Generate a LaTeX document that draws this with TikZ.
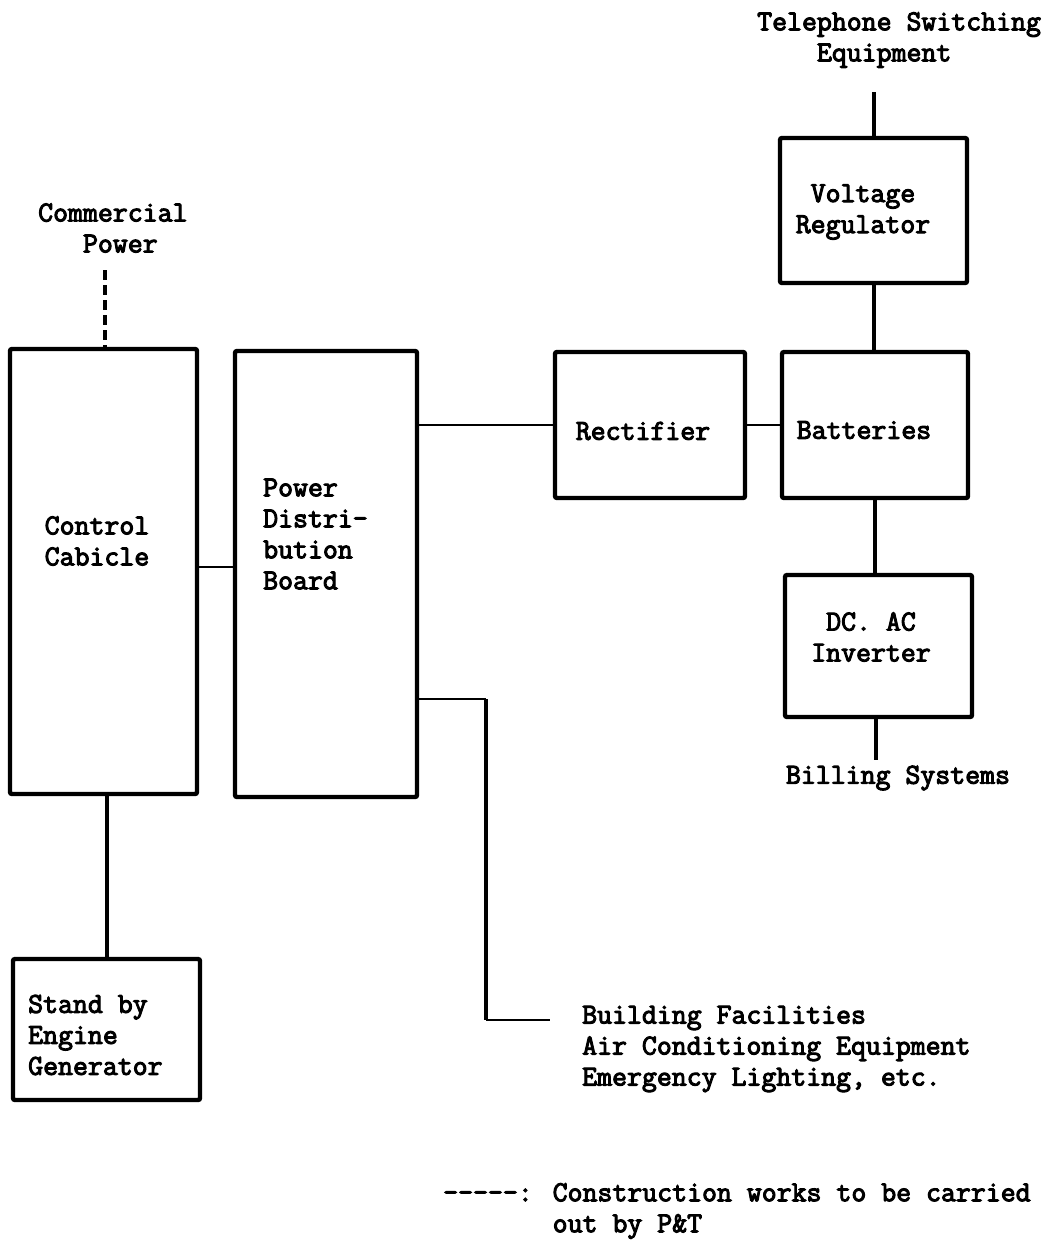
\documentclass[tikz,border=0pt]{standalone}
\usepackage{fontspec}
\newfontfamily\twfamily{Latin Modern Mono}[FakeBold=3.5]
\newcommand\twfont{\twfamily\bfseries\fontsize{29}{31}\selectfont}
\begin{document}
\begin{tikzpicture}[x=1pt,y=-1pt,
  blk/.style={draw, line width=4.4pt, inner sep=0pt, rounded corners=2pt},
  lbl/.style={inner sep=0pt, font=\twfont},
  vline/.style={line width=4pt},
  hline/.style={line width=2.6pt},
  dline/.style={line width=4pt, dash pattern=on 10pt off 5pt}]
\useasboundingbox (0,0) rectangle (1062,1248);
\fill[white] (0,0) rectangle (1062,1248);

% boxes
\node[blk, minimum width=187pt, minimum height=445pt] (cc) at (103.5,571.5) {};
\node[blk, minimum width=182pt, minimum height=446pt] (pdb) at (326,574) {};
\node[blk, minimum width=190pt, minimum height=146pt] (rect) at (650,425) {};
\node[blk, minimum width=186pt, minimum height=146pt] (batt) at (875,425) {};
\node[blk, minimum width=187pt, minimum height=145pt] (vreg) at (873.5,210.5) {};
\node[blk, minimum width=187pt, minimum height=142pt] (inv) at (878.5,646) {};
\node[blk, minimum width=187pt, minimum height=141pt] (gen) at (106.5,1029.5) {};

% box texts
\node[lbl, align=left] (cct) at (97,541) {Control\\Cabicle};
\node[lbl, align=left, anchor=west] (pdbt) at (263,534) {Power\\Distri-\\bution\\Board};
\node[lbl] (rectt) at (643,431) {Rectifier};
\node[lbl] (battt) at (864,430) {Batteries};
\node[lbl, align=center] (vregt) at (863,212) {Voltage\\Regulator};
\node[lbl, align=center] (invt) at (871,637) {DC. AC\\Inverter};
\node[lbl, align=left, anchor=west] (gent) at (28,1035) {Stand by\\Engine\\Generator};

% free labels
\node[lbl, align=left, anchor=west] (tel) at (757,40) {Telephone Switching\\\hphantom{Tele}Equipment};
\node[lbl] (bill) at (898,778) {Billing Systems};
\node[lbl, align=left, anchor=west] (cp) at (38,228) {Commercial\\\hphantom{Com}Power};
\node[lbl, align=left, anchor=west] (bld) at (582,1049) {Building Facilities\\Air Conditioning Equipment\\Emergency Lighting, etc.};
\node[lbl, align=left, anchor=west] (leg) at (443,1211) {-----: Construction works to be carried\\\hphantom{-----: }out by P\&T};

% connector end points
\coordinate (telend) at (873.5,92);
\coordinate (billend) at (876,760);
\coordinate (cpend) at (105,270);
\coordinate (b1) at (486,699);
\coordinate (b2) at (486,1020);
\coordinate (b3) at (550,1020);

% connectors
\draw[hline] ([yshift=4.5pt]cc.east) -- ([yshift=4.5pt]cc.east -| pdb.west);
\draw[hline] (rect.west -| pdb.east) -- (rect.west);
\draw[hline] (rect.east) -- (batt.west);
\draw[vline] (telend) -- (telend |- vreg.north);
\draw[vline] (vreg.south) -- (vreg.south |- batt.north);
\draw[vline] (batt.south) -- (batt.south |- inv.north);
\draw[vline] (billend |- inv.south) -- (billend);
\draw[vline] (gen.north |- cc.south) -- (gen.north);
\draw[dline] (cpend) -- (cpend |- cc.north);
\draw[hline] (b1 -| pdb.east) -- (b1);
\draw[vline] (b1) -- (b2);
\draw[hline] (b2) -- (b3);
\end{tikzpicture}
\end{document}
